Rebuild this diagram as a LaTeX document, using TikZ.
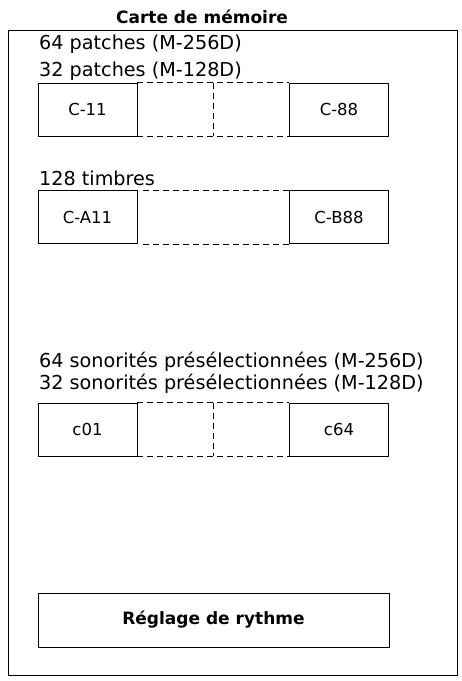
\documentclass[tikz,border=0pt]{standalone}
\usepackage{fontspec}
\setmainfont{DejaVu Sans}
\usetikzlibrary{calc}
\begin{document}
\begin{tikzpicture}[x=1pt,y=-1pt,
  lbl/.style={anchor=base west,inner sep=0pt,font=\fontsize{19.2}{21}\selectfont},
  cell/.style={draw,line width=0.9pt,minimum width=99pt,minimum height=53pt,inner sep=0pt,font=\fontsize{16.5}{18}\selectfont},
  gap/.style={draw,dash pattern=on 6pt off 4pt,line width=0.9pt},
  frame/.style={draw,line width=0.9pt}]
\useasboundingbox (0,0) rectangle (462,681);
\path[frame] (8,30) rectangle (457,675);
\node[font=\bfseries\fontsize{17}{19}\selectfont,inner sep=0pt] (title) at (202,17) {Carte de mémoire};
% row 1
\node[lbl] (p64) at (39,49) {64 patches (M-256D)};
\node[lbl] (p32) at (39,76) {32 patches (M-128D)};
\node[cell] (c11) at (87.5,109.5) {C-11};
\node[cell] (c88) at (339,109.5) {C-88};
\coordinate (m1t) at ($(c11.north east)!0.5!(c88.north west)$);
\coordinate (m1b) at ($(c11.south east)!0.5!(c88.south west)$);
\draw[gap] (c11.north east) -- (c88.north west);
\draw[gap] (c11.south east) -- (c88.south west);
\draw[gap] (m1t) -- (m1b);
% row 2
\node[lbl] (t128) at (39,185) {128 timbres};
\node[cell] (ca11) at (87.5,217) {C-A11};
\node[cell] (cb88) at (339,217) {C-B88};
\draw[gap] ([xshift=6pt]ca11.north east) -- (cb88.north west);
\draw[gap] ([xshift=6pt]ca11.south east) -- (cb88.south west);
% row 3
\node[lbl] (s64) at (39,367) {64 sonorités présélectionnées (M-256D)};
\node[lbl] (s32) at (39,389) {32 sonorités présélectionnées (M-128D)};
\node[cell] (c01) at (87.5,429.5) {c01};
\node[cell] (c64) at (339,429.5) {c64};
\coordinate (m3t) at ($(c01.north east)!0.5!(c64.north west)$);
\coordinate (m3b) at ($(c01.south east)!0.5!(c64.south west)$);
\draw[gap] (c01.north east) -- (c64.north west);
\draw[gap] (c01.south east) -- (c64.south west);
\draw[gap] (m3t) -- (m3b);
% rhythm
\node[draw,line width=0.9pt,minimum width=351pt,minimum height=54pt,inner sep=0pt,font=\bfseries\fontsize{17}{19}\selectfont] (rhy) at (213.5,620) {Réglage de rythme};
\end{tikzpicture}
\end{document}
